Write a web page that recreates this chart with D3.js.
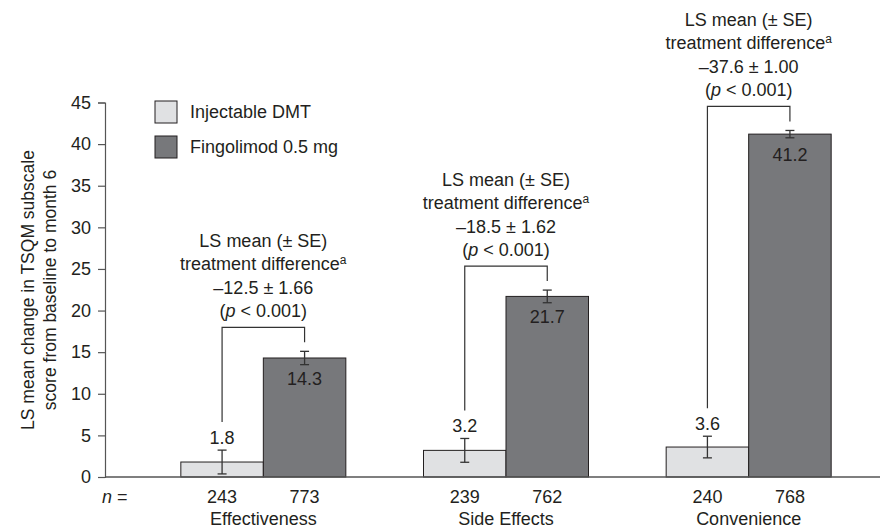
<!DOCTYPE html>
<html>
<head>
<meta charset="utf-8">
<script src="https://cdn.jsdelivr.net/npm/d3@7"></script>
<style>
  html, body { margin: 0; padding: 0; background: #fff; }
  svg { display: block; }
  text { font-family: "Liberation Sans", Arial, Helvetica, sans-serif; fill: #231f20; }
</style>
</head>
<body>
<svg id="chart" width="895" height="530"></svg>
<script>
// ---- data ----
const categories = ["Effectiveness", "Side Effects", "Convenience"];
const seriesNames = ["Injectable DMT", "Fingolimod 0.5 mg"];
const dmtValues = [1.8, 3.2, 3.6];
const fingoValues = [14.3, 21.7, 41.2];
const dmtSE = [1.43, 1.43, 1.3];
const fingoSE = [0.8, 0.76, 0.44];
const dmtN = [243, 239, 240];
const fingoN = [773, 762, 768];
const diffLabels = ["\u201312.5 \u00b1 1.66", "\u201318.5 \u00b1 1.62", "\u201337.6 \u00b1 1.00"];
const pLabels = ["< 0.001", "< 0.001", "< 0.001"];
const yTicks = [0, 5, 10, 15, 20, 25, 30, 35, 40, 45];
const yTitleLines = ["LS mean change in TSQM subscale", "score from baseline to month 6"];

// ---- layout ----
const svg = d3.select("#chart");
const colors = ["#e0e1e3", "#77787b"];
const stroke = "#231f20";
const axisX = 105, axisRight = 880;

const y = d3.scaleLinear().domain([0, 45]).range([477, 102.5]);
const x = d3.scaleBand().domain(categories).range([142, 870]).padding(0);
const xs = d3.scaleBand().domain(seriesNames).range([0, 165]).padding(0);

const groups = categories.map((c, i) => ({
  cat: c,
  cx: x(c) + x.bandwidth() / 2,
  vals: [dmtValues[i], fingoValues[i]],
  se: [dmtSE[i], fingoSE[i]],
  n: [dmtN[i], fingoN[i]],
  diff: diffLabels[i],
  p: pLabels[i]
}));

// y axis
const yAxis = d3.axisLeft(y).tickValues(yTicks).tickSize(7).tickPadding(7);
const gy = svg.append("g").attr("transform", `translate(${axisX},0)`).call(yAxis);
gy.select(".domain").attr("stroke", "#555").attr("stroke-width", 1.2);
gy.selectAll(".tick line").attr("stroke", "#555").attr("stroke-width", 1.2);
gy.selectAll(".tick text").attr("font-size", 18).attr("fill", "#231f20")
  .style("font-family", '"Liberation Sans", Arial, sans-serif');

// y title
const yTitle = svg.append("text")
  .attr("transform", `translate(34,290) rotate(-90)`)
  .attr("text-anchor", "middle").attr("font-size", 17.5);
yTitleLines.forEach((l, i) => {
  yTitle.append("tspan").attr("x", 0).attr("dy", i === 0 ? 0 : 22).text(l);
});

// bars
groups.forEach(g => {
  const left = g.cx - 82.5;
  const gg = svg.append("g");
  seriesNames.forEach((s, j) => {
    const bx = left + xs(s);
    gg.append("rect")
      .attr("x", bx).attr("y", y(g.vals[j]))
      .attr("width", xs.bandwidth()).attr("height", y(0) - y(g.vals[j]))
      .attr("fill", colors[j]).attr("stroke", stroke).attr("stroke-width", 1);
  });
});

// x axis line
svg.append("line").attr("x1", axisX).attr("x2", axisRight)
  .attr("y1", y(0)).attr("y2", y(0)).attr("stroke", "#555").attr("stroke-width", 1.5);

// error bars, labels, brackets, annotations
groups.forEach(g => {
  const left = g.cx - 82.5;
  const centers = seriesNames.map(s => left + xs(s) + xs.bandwidth() / 2);
  g.vals.forEach((v, j) => {
    const top = y(v + g.se[j]), bot = y(v - g.se[j]);
    const cx = centers[j];
    svg.append("line").attr("x1", cx).attr("x2", cx).attr("y1", top).attr("y2", bot)
      .attr("stroke", "#333").attr("stroke-width", 1.3);
    [top, bot].forEach(yy => svg.append("line").attr("x1", cx - 4.5).attr("x2", cx + 4.5)
      .attr("y1", yy).attr("y2", yy).attr("stroke", "#333").attr("stroke-width", 1.3));
    // value label
    if (j === 0) {
      svg.append("text").attr("x", cx).attr("y", top - 6).attr("text-anchor", "middle")
        .attr("font-size", 18).text(v.toFixed(1));
    } else {
      svg.append("text").attr("x", cx).attr("y", y(v) + 27).attr("text-anchor", "middle")
        .attr("font-size", 18).text(v.toFixed(1));
    }
    // n label
    svg.append("text").attr("x", cx).attr("y", 503).attr("text-anchor", "middle")
      .attr("font-size", 18).text(g.n[j]);
  });
  // bracket
  const errTopL = y(g.vals[0] + g.se[0]);
  const errTopR = y(g.vals[1] + g.se[1]);
  const bTop = errTopR - 24;
  svg.append("path")
    .attr("d", `M${centers[0]},${errTopL - 28}V${bTop}H${centers[1]}V${errTopR - 9}`)
    .attr("fill", "none").attr("stroke", "#333").attr("stroke-width", 1.2);
  // annotation
  const lines = 4, lh = 23.5;
  const baseLast = bTop - 10;
  const t = svg.append("text").attr("text-anchor", "middle").attr("font-size", 18);
  const y0 = baseLast - (lines - 1) * lh;
  t.append("tspan").attr("x", g.cx).attr("y", y0).text("LS mean (\u00b1 SE)");
  t.append("tspan").attr("x", g.cx).attr("y", y0 + lh).text("treatment difference");
  t.append("tspan").attr("font-size", 12).attr("dy", -6).text("a");
  t.append("tspan").attr("x", g.cx).attr("y", y0 + 2 * lh).text(g.diff);
  t.append("tspan").attr("x", g.cx).attr("y", y0 + 3 * lh).text("(");
  t.append("tspan").attr("font-style", "italic").text("p");
  t.append("tspan").text(" " + g.p + ")");
  // category label
  svg.append("text").attr("x", g.cx).attr("y", 525).attr("text-anchor", "middle")
    .attr("font-size", 18).text(g.cat);
});

// n = label
const nl = svg.append("text").attr("x", 102).attr("y", 503).attr("font-size", 18);
nl.append("tspan").attr("font-style", "italic").text("n");
nl.append("tspan").text(" =");

// legend
seriesNames.forEach((s, j) => {
  const ly = 101 + j * 35;
  svg.append("rect").attr("x", 155).attr("y", ly).attr("width", 22).attr("height", 22)
    .attr("fill", colors[j]).attr("stroke", stroke).attr("stroke-width", 1);
  svg.append("text").attr("x", 190).attr("y", ly + 11).attr("dy", "0.35em")
    .attr("font-size", 18).text(s);
});
</script>
</body>
</html>
